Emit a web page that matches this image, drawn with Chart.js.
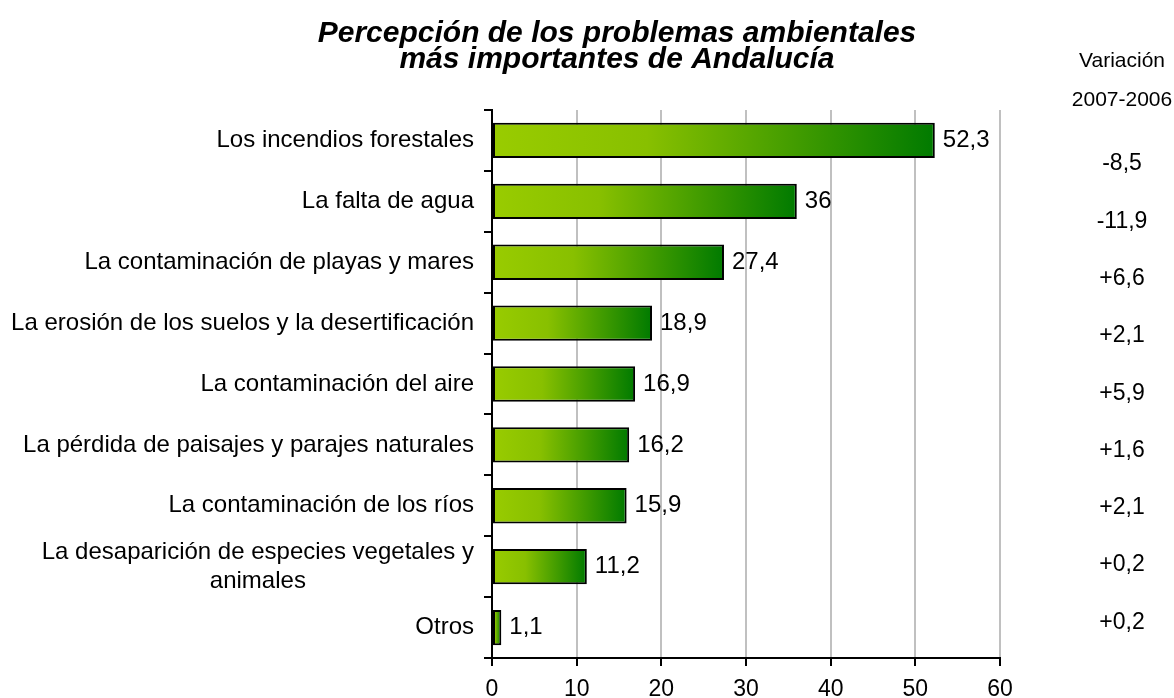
<!DOCTYPE html>
<html>
<head>
<meta charset="utf-8">
<script src="https://cdn.jsdelivr.net/npm/chart.js@4/dist/chart.umd.min.js"></script>
<style>
  body { margin: 0; background: #fff; }
  #chart { display: block; }
</style>
</head>
<body>
<canvas id="chart" width="1174" height="698"></canvas>
<script>
const categories = [
  'Los incendios forestales',
  'La falta de agua',
  'La contaminación de playas y mares',
  'La erosión de los suelos y la desertificación',
  'La contaminación del aire',
  'La pérdida de paisajes y parajes naturales',
  'La contaminación de los ríos',
  ['La desaparición de especies vegetales y', 'animales'],
  'Otros'
];
const values = [52.3, 36, 27.4, 18.9, 16.9, 16.2, 15.9, 11.2, 1.1];
const variation = [-8.5, -11.9, 6.6, 2.1, 5.9, 1.6, 2.1, 0.2, 0.2];
const variationTitle = ['Variación', '2007-2006'];
const titleLines = ['Percepción de los problemas ambientales', 'más importantes de Andalucía'];
const xMin = 0, xMax = 60, xStep = 10;

const FONT = "'Liberation Sans', Arial, sans-serif";
const fmt = v => String(v).replace('.', ',');

// bars: light green at the base, dark green at the bar end
function barGradient(ctx) {
  const chart = ctx.chart;
  const x = chart.scales.x;
  if (!x || ctx.dataIndex === undefined) return '#99cc00';
  const x0 = x.getPixelForValue(0);
  const x1 = x.getPixelForValue(values[ctx.dataIndex]);
  if (!Number.isFinite(x0) || !Number.isFinite(x1)) return '#99cc00';
  const g = chart.ctx.createLinearGradient(x0, 0, Math.max(x1, x0 + 1), 0);
  g.addColorStop(0, '#99cc00');
  g.addColorStop(0.35, '#88c000');
  g.addColorStop(1, '#007a00');
  return g;
}

const extras = {
  id: 'extras',
  afterDraw(chart) {
    const c = chart.ctx;
    const area = chart.chartArea;
    const y = chart.scales.y;
    c.save();
    c.fillStyle = '#000';

    // title
    c.font = `italic bold 30px ${FONT}`;
    c.textAlign = 'center';
    c.textBaseline = 'middle';
    titleLines.forEach((t, i) => c.fillText(t, 617, 34 + i * 26));

    // category labels
    c.font = `24px ${FONT}`;
    const right = y.right - 18;
    categories.forEach((lab, i) => {
      const yc = y.getPixelForValue(i);
      if (Array.isArray(lab)) {
        const w = Math.max(...lab.map(l => c.measureText(l).width));
        const lh = 29;
        c.textAlign = 'center';
        lab.forEach((l, j) => c.fillText(l, right - w / 2, yc + (j - (lab.length - 1) / 2) * lh));
      } else {
        c.textAlign = 'right';
        c.fillText(lab, right, yc);
      }
    });

    // value labels
    c.textAlign = 'left';
    chart.getDatasetMeta(0).data.forEach((el, i) => {
      c.fillText(fmt(values[i]), el.x + 8, el.y);
    });

    // variation column
    const vx = area.right + 122;
    c.textAlign = 'center';
    c.font = `21px ${FONT}`;
    c.fillText(variationTitle[0], vx, 61);
    c.fillText(variationTitle[1], vx, 100);
    c.font = `23px ${FONT}`;
    variation.forEach((v, i) => {
      const s = (v > 0 ? '+' : '') + fmt(v);
      c.fillText(s, vx, area.top + 54 + i * 57.3);
    });
    c.restore();
  }
};

new Chart(document.getElementById('chart'), {
  type: 'bar',
  data: {
    labels: categories,
    datasets: [{
      data: values,
      backgroundColor: barGradient,
      borderColor: '#000',
      borderWidth: 2,
      borderSkipped: false,
      barPercentage: 0.58,
      categoryPercentage: 1
    }]
  },
  options: {
    indexAxis: 'y',
    responsive: false,
    animation: false,
    devicePixelRatio: 1,
    layout: { padding: { top: 110, right: 174, left: 0, bottom: 0 } },
    plugins: {
      legend: { display: false },
      title: { display: false },
      tooltip: { enabled: false }
    },
    scales: {
      x: {
        min: xMin,
        max: xMax,
        afterFit: s => { s.height = 40; },
        ticks: {
          stepSize: xStep,
          color: '#000',
          padding: 10,
          font: { family: FONT, size: 23 }
        },
        grid: {
          color: ctx => (ctx.tick && ctx.tick.value === 0) ? 'rgba(0,0,0,0)' : '#c0c0c0',
          lineWidth: 2,
          tickColor: '#000',
          tickLength: 8
        },
        border: { color: '#000', width: 2 }
      },
      y: {
        afterFit: s => { s.width = 492; },
        ticks: { color: 'rgba(0,0,0,0)', font: { family: FONT, size: 24 } },
        grid: {
          offset: true,
          drawOnChartArea: false,
          tickColor: '#000',
          tickLength: 8,
          lineWidth: 2
        },
        border: { color: '#000', width: 2 }
      }
    }
  },
  plugins: [extras]
});
</script>
</body>
</html>
